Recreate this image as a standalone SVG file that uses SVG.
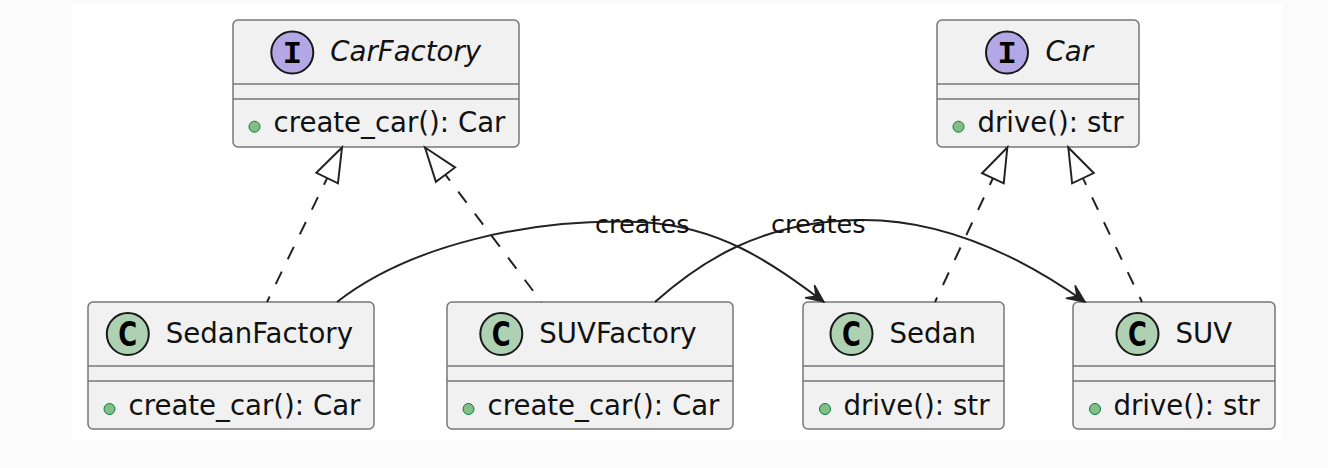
<svg xmlns="http://www.w3.org/2000/svg" width="1328" height="468" viewBox="0 0 1328 468">
<style>
.box{fill:#F1F1F1;stroke:#777777;stroke-width:1.5}
.sep{stroke:#777777;stroke-width:1.5}
.title{font-family:"DejaVu Sans","Liberation Sans",sans-serif;font-size:27.6px;fill:#111}
.ital{font-style:italic}
.meth{font-family:"DejaVu Sans","Liberation Sans",sans-serif;font-size:27.6px;fill:#111}
.dot{fill:#84BE84;stroke:#038048;stroke-width:1}
.ci{fill:#B4A7E5;stroke:#181818;stroke-width:2}
.cc{fill:#ADD1B2;stroke:#181818;stroke-width:2}
.li{font-family:"Liberation Mono","DejaVu Sans Mono",monospace;font-weight:bold;font-size:32px;fill:#000;text-anchor:middle}
.lc{font-family:"DejaVu Sans","Liberation Sans",sans-serif;font-weight:bold;font-size:33px;fill:#000;text-anchor:middle}
.real{fill:none;stroke:#222222;stroke-width:1.97;stroke-dasharray:13.8 13.8}
.dep{fill:none;stroke:#222222;stroke-width:1.97}
.lbl{font-family:"DejaVu Sans","Liberation Sans",sans-serif;font-size:25.6px;fill:#111}
</style>
<defs>
<marker id="tri" markerUnits="userSpaceOnUse" viewBox="-38 -15 40 30" refX="0" refY="0" markerWidth="40" markerHeight="30" orient="auto-start-reverse" overflow="visible">
<path d="M0,0 L-34,-12 L-34,12 Z" fill="#FFFFFF" stroke="#222222" stroke-width="1.97" stroke-dasharray="none"/>
</marker>
<marker id="arr" markerUnits="userSpaceOnUse" viewBox="-22 -10 24 20" refX="0" refY="0" markerWidth="24" markerHeight="20" orient="auto" overflow="visible">
<path d="M0,0 L-17.7,-7.9 L-9.85,0 L-17.7,7.9 Z" fill="#222222" stroke="#222222" stroke-width="1.5" stroke-dasharray="none"/>
</marker>
</defs>
<rect x="0" y="0" width="1328" height="468" fill="#FBFBFB"/>
<rect x="72" y="4" width="1211" height="436" fill="#FFFFFF"/>

<g id="CarFactory">
<rect class="box" x="233" y="20" width="286" height="127" rx="5"/>
<circle class="ci" cx="292.3" cy="52.5" r="21"/>
<text class="li" x="292.3" y="62.5">I</text>
<text class="title ital" x="330.3" y="60.5">CarFactory</text>
<line class="sep" x1="233" y1="84" x2="519" y2="84"/>
<line class="sep" x1="233" y1="99" x2="519" y2="99"/>
<circle class="dot" cx="254.5" cy="126.7" r="5.5"/>
<text class="meth" x="273.5" y="132">create_car(): Car</text>
</g>

<g id="Car">
<rect class="box" x="937" y="20" width="202" height="127" rx="5"/>
<circle class="ci" cx="1007" cy="52.5" r="21"/>
<text class="li" x="1007" y="62.5">I</text>
<text class="title ital" x="1045.5" y="60.5">Car</text>
<line class="sep" x1="937" y1="84" x2="1139" y2="84"/>
<line class="sep" x1="937" y1="99" x2="1139" y2="99"/>
<circle class="dot" cx="958.5" cy="126.7" r="5.5"/>
<text class="meth" x="977.5" y="132">drive(): str</text>
</g>

<g id="SedanFactory">
<rect class="box" x="88" y="302" width="286" height="127" rx="5"/>
<circle class="cc" cx="127.8" cy="334" r="21"/>
<text class="lc" transform="translate(127.8,346) scale(0.78,1)">C</text>
<text class="title" x="165.8" y="343">SedanFactory</text>
<line class="sep" x1="88" y1="366" x2="374" y2="366"/>
<line class="sep" x1="88" y1="381" x2="374" y2="381"/>
<circle class="dot" cx="109.5" cy="409" r="5.5"/>
<text class="meth" x="128.5" y="414.5">create_car(): Car</text>
</g>

<g id="SUVFactory">
<rect class="box" x="447" y="302" width="286" height="127" rx="5"/>
<circle class="cc" cx="501.3" cy="334" r="21"/>
<text class="lc" transform="translate(501.3,346) scale(0.78,1)">C</text>
<text class="title" x="539.3" y="343">SUVFactory</text>
<line class="sep" x1="447" y1="366" x2="733" y2="366"/>
<line class="sep" x1="447" y1="381" x2="733" y2="381"/>
<circle class="dot" cx="468.5" cy="409" r="5.5"/>
<text class="meth" x="487.5" y="414.5">create_car(): Car</text>
</g>

<g id="Sedan">
<rect class="box" x="803" y="302" width="201" height="127" rx="5"/>
<circle class="cc" cx="851.5" cy="334" r="21"/>
<text class="lc" transform="translate(851.5,346) scale(0.78,1)">C</text>
<text class="title" x="889.5" y="343">Sedan</text>
<line class="sep" x1="803" y1="366" x2="1004" y2="366"/>
<line class="sep" x1="803" y1="381" x2="1004" y2="381"/>
<circle class="dot" cx="825" cy="409" r="5.5"/>
<text class="meth" x="843.5" y="414.5">drive(): str</text>
</g>

<g id="SUV">
<rect class="box" x="1073" y="302" width="202" height="127" rx="5"/>
<circle class="cc" cx="1137.5" cy="334" r="21"/>
<text class="lc" transform="translate(1137.5,346) scale(0.78,1)">C</text>
<text class="title" x="1175.5" y="343">SUV</text>
<line class="sep" x1="1073" y1="366" x2="1275" y2="366"/>
<line class="sep" x1="1073" y1="381" x2="1275" y2="381"/>
<circle class="dot" cx="1095" cy="409" r="5.5"/>
<text class="meth" x="1113.5" y="414.5">drive(): str</text>
</g>

<g id="connectors">
<path class="real" d="M342,147.5 L267,302" marker-start="url(#tri)"/>
<path class="real" d="M425,147.5 L541.5,302" marker-start="url(#tri)"/>
<path class="real" d="M1007.3,147.5 L935,302" marker-start="url(#tri)"/>
<path class="real" d="M1068.3,147.5 L1142,302" marker-start="url(#tri)"/>
<path class="dep" d="M337,302 C410,245 530,218 640,222 C720,226 770,262 824,302" marker-end="url(#arr)"/>
<text class="lbl" x="595" y="233">creates</text>
<path class="dep" d="M655,302 C700,262 760,222 857,220 C940,218 1020,256 1085,302" marker-end="url(#arr)"/>
<text class="lbl" x="771" y="233">creates</text>
</g>
</svg>
